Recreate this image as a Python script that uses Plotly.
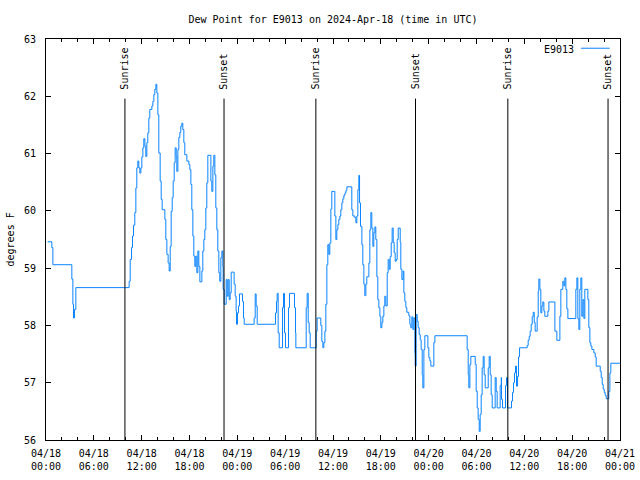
import pandas as pd
import plotly.graph_objects as go

# hours after 2024-04-18 00:00 UTC and dew point (deg F)
hours = [0.2, 0.73, 0.86, 3.24, 3.37, 3.45, 3.57, 3.74,
         10.43, 10.56, 10.73, 10.85, 10.98, 11.14, 11.27, 11.39, 11.52, 11.64, 11.77, 11.90,
         12.02, 12.15, 12.27, 12.40, 12.52, 12.65, 12.77, 12.90, 13.02, 13.28, 13.40, 13.53,
         13.65, 13.78, 13.90, 14.03, 14.15,
         14.32, 14.45, 14.57, 14.91, 15.03, 15.16, 15.32, 15.45, 15.58, 15.70, 15.83, 15.95,
         16.08, 16.20, 16.33, 16.41, 16.54, 16.66, 16.79, 16.91, 17.04, 17.16, 17.29, 17.41,
         17.67, 17.92, 18.04, 18.17, 18.29, 18.42, 18.54, 18.67, 18.79, 18.92, 19.05, 19.17,
         19.30, 19.55, 19.67, 19.80, 19.92, 20.05, 20.17, 20.30, 20.68, 20.80, 20.93, 21.05,
         21.18, 21.30, 21.43, 21.55, 21.68, 21.80, 21.93, 22.06, 22.18, 22.22, 22.35, 22.60,
         22.73, 22.85, 22.98, 23.10, 23.23, 23.60, 23.73, 23.85, 23.90, 24.02, 24.15, 24.27,
         24.65, 24.77, 24.86, 26.11, 26.24, 26.36, 26.49,
         28.79, 28.91, 29.00, 29.12, 29.25, 29.67, 29.79, 29.92, 30.04, 30.42, 30.54, 31.17,
         31.30, 31.34, 32.64, 32.76, 32.89, 33.01, 33.14, 33.89, 34.01, 34.47, 34.60, 34.73,
         34.85, 34.98, 35.10, 35.23, 35.35, 35.48, 35.60, 35.73, 35.85, 36.23, 36.36, 36.48,
         36.61, 36.73, 36.86, 36.98, 37.11, 37.23, 37.36, 37.49, 37.61, 37.74, 38.36, 38.49,
         38.74, 38.87, 38.99, 39.12, 39.24, 39.33, 39.45, 39.62, 39.74, 39.87, 39.99, 40.12,
         40.24, 40.50, 40.62, 40.75, 40.87, 41.00, 41.12, 41.25, 41.37, 41.50, 41.62, 41.75,
         41.88, 42.00, 42.13, 42.25, 42.38, 42.50, 42.63,
         42.80, 42.92, 43.05, 43.17, 43.30, 43.42, 43.55, 43.67, 43.80, 43.93, 44.05, 44.18,
         44.43, 44.51, 44.64, 44.80, 44.89, 45.01, 45.14, 45.26, 45.51, 45.64, 45.76, 45.89,
         46.02, 46.14, 46.27, 46.31, 46.43, 46.56, 46.68, 46.81, 46.94, 47.06, 47.19, 47.27,
         47.40, 47.52, 47.90, 48.02, 48.15, 48.27, 48.65, 48.78,
         52.83, 52.96, 53.04, 53.17, 53.29, 53.84, 53.96, 54.09, 54.21, 54.34, 54.46, 54.59,
         54.71, 54.84, 54.96, 55.09, 55.47, 55.59, 55.72, 55.84, 55.97, 56.34, 56.47, 56.59,
         56.97, 57.10, 57.14, 57.26, 57.64, 57.77, 57.89, 58.39, 58.52, 58.64, 58.77, 58.90,
         59.02, 59.15, 59.27, 59.40, 60.36, 60.48, 60.61, 60.73, 60.86, 60.99, 61.11, 61.24,
         61.36, 61.61, 61.74, 61.82, 61.95, 62.07, 62.20, 62.32, 62.45, 62.57, 62.95, 63.08,
         63.83, 64.08, 64.46, 64.58, 64.83, 64.96, 65.08, 65.21, 65.33, 65.46, 66.46, 66.59,
         66.71, 66.84, 66.96, 67.09, 67.21, 67.34, 67.47, 67.59, 67.97, 68.09, 68.22, 68.34,
         68.47, 68.72, 68.89, 69.01, 69.52, 69.64, 69.77, 69.89, 70.02, 70.14, 70.27, 70.60,
         70.73, 70.85, 72.00]

dewpoint = [59.46, 59.36, 59.06, 58.81, 58.37, 58.13, 58.28, 58.66,
            58.77, 59.15, 59.36, 59.56, 59.75, 59.97, 60.40, 60.75, 60.87, 60.75, 60.66, 60.75,
            60.94, 61.10, 61.26, 61.13, 60.95, 61.19, 61.36, 61.62, 61.77, 61.83, 61.91, 62.03,
            62.12, 62.21, 62.06, 61.68, 61.01,
            60.52, 60.20, 60.02, 59.85, 59.50, 59.24, 59.09, 58.95, 59.38, 59.99, 60.23, 60.52,
            60.84, 61.10, 60.95, 60.69, 61.07, 61.28, 61.37, 61.48, 61.53, 61.42, 61.19, 60.98,
            60.87, 60.81, 60.72, 60.46, 60.02, 59.56, 59.21, 59.03, 59.21, 58.92, 59.30, 59.03,
            58.76, 58.95, 59.30, 59.50, 59.67, 60.05, 60.49, 60.97, 60.52, 60.34, 60.78, 60.97,
            60.63, 60.05, 59.67, 59.30, 58.92, 58.77, 59.18, 59.30, 59.03, 58.63, 58.37, 58.80,
            58.51, 58.80, 58.45, 58.57, 58.93, 58.72, 58.51, 58.25, 58.02, 58.22, 58.34, 58.55,
            58.42, 58.13, 58.02, 58.13, 58.55, 58.34, 58.02,
            58.22, 58.42, 58.56, 57.87, 57.61, 58.31, 58.56, 57.87, 57.61, 58.31, 58.56, 58.31,
            57.87, 57.61, 58.31, 58.56, 58.05, 57.87, 57.61, 57.90, 58.13, 58.00, 57.72, 57.61,
            57.70, 57.90, 58.37, 59.06, 59.41, 59.24, 59.44, 60.03, 60.34, 59.91, 59.50, 59.67,
            59.76, 59.85, 59.91, 60.02, 60.14, 60.21, 60.27, 60.31, 60.35, 60.42, 60.02, 59.91,
            59.88, 59.79, 59.91, 60.37, 60.62, 60.14, 59.73, 59.41, 59.06, 58.72, 58.52, 58.72,
            58.85, 59.09, 59.67, 59.97, 59.70, 59.38, 59.62, 59.72, 59.50, 58.85, 58.45, 58.31,
            58.16, 57.96, 58.05, 58.16, 58.34, 58.51, 58.34,
            58.92, 59.15, 58.98, 59.20, 59.44, 59.70, 59.45, 59.27, 59.12, 59.15, 59.50, 59.70,
            59.45, 58.98, 58.80, 58.95, 58.57, 58.42, 58.31, 58.23, 58.17, 58.02, 57.96, 58.15,
            57.93, 58.13, 57.52, 57.29, 58.19, 58.07, 57.96, 57.84, 57.75, 57.58, 57.14, 56.91,
            57.58, 57.82, 57.61, 57.44, 57.38, 57.29, 57.70, 57.82,
            57.58, 57.14, 56.91, 57.32, 57.46, 57.32, 56.85, 56.56, 56.36, 56.15, 56.45, 56.79,
            57.26, 57.46, 57.14, 56.91, 57.26, 57.46, 57.14, 56.79, 56.56, 57.09, 56.85, 56.56,
            56.95, 57.09, 56.71, 56.56, 56.95, 57.09, 56.56, 56.68, 56.83, 57.00, 57.17, 57.29,
            56.94, 57.11, 57.45, 57.61, 57.65, 57.74, 57.81, 57.90, 58.02, 58.15, 58.23, 58.05,
            57.90, 58.15, 58.60, 58.81, 58.63, 58.22, 58.34, 58.41, 58.25, 58.16, 58.25, 58.41,
            57.90, 57.74, 58.16, 58.63, 58.77, 58.69, 58.83, 58.63, 58.29, 58.12, 58.63, 58.83,
            58.12, 57.93, 58.63, 58.83, 58.16, 58.45, 58.12, 58.63, 58.45, 57.96, 57.70, 57.64,
            57.58, 57.52, 57.45, 57.29, 57.20, 57.09, 56.97, 56.89, 56.83, 56.78, 56.72, 56.85,
            57.17, 57.34, 57.34]

sunrise_hours = [9.9, 33.85, 57.93]
sunset_hours = [22.33, 46.35, 70.5]
y_range = [56, 63]
marker_top = 61.96
series_name = "E9013"

base = pd.Timestamp("2024-04-18 00:00")
times = [base + pd.Timedelta(hours=h) for h in hours]

FONT = "DejaVu Sans Mono"
LINE_COLOR = "#0a84ff"
fig = go.Figure()
fig.add_trace(go.Scatter(x=times, y=dewpoint, mode="lines", line_shape="hv",
                         line=dict(color=LINE_COLOR, width=1), name=series_name,
                         showlegend=False))

shapes = []
annotations = []
for label, hrs in (("Sunrise", sunrise_hours), ("Sunset", sunset_hours)):
    for h in hrs:
        t = base + pd.Timedelta(hours=h)
        shapes.append(dict(type="line", xref="x", yref="y", x0=t, x1=t,
                           y0=y_range[0], y1=marker_top,
                           line=dict(color="black", width=1)))
        annotations.append(dict(x=t, y=62.08, xref="x", yref="y", text=label,
                                textangle=-90, showarrow=False, xanchor="center",
                                yanchor="bottom", font=dict(family=FONT, size=10, color="black")))

# legend in gnuplot style (text then sample line)
annotations.append(dict(x=0.923, y=0.975, xref="paper", yref="paper", text=series_name,
                        showarrow=False, xanchor="right", yanchor="middle",
                        font=dict(family=FONT, size=10, color="black")))
shapes.append(dict(type="line", xref="paper", yref="paper", x0=0.932, x1=0.982,
                   y0=0.977, y1=0.977, line=dict(color=LINE_COLOR, width=1)))

annotations.append(dict(x=-0.061, y=0.5, xref="paper", yref="paper", text="degrees F",
                        textangle=-90, showarrow=False, xanchor="center", yanchor="middle",
                        font=dict(family=FONT, size=10, color="black")))

fig.update_layout(
    width=640, height=480,
    margin=dict(l=46, r=20, t=39, b=40),
    paper_bgcolor="white", plot_bgcolor="white",
    font=dict(family=FONT, size=10, color="black"),
    title=dict(text="Dew Point for E9013 on 2024-Apr-18 (time in UTC)", x=0.5, xref="paper",
               xanchor="center", y=1 - 19 / 480, yref="container", yanchor="middle",
               font=dict(family=FONT, size=10, color="black")),
    shapes=shapes, annotations=annotations,
    xaxis=dict(type="date", range=[base, base + pd.Timedelta(hours=72)], automargin=False,
               dtick=6 * 3600 * 1000, tick0=base, tickformat="%m/%d<br>%H:%M",
               ticks="inside", ticklen=5, tickcolor="black", showgrid=False,
               ticklabelstandoff=4,
               showline=True, linecolor="black", linewidth=1, mirror="ticks",
               minor=dict(dtick=2 * 3600 * 1000, ticks="inside", ticklen=3,
                          tickcolor="black", showgrid=False),
               zeroline=False, tickfont=dict(family=FONT, size=10)),
    yaxis=dict(range=y_range, dtick=1, ticks="inside", ticklen=5, tickcolor="black",
               automargin=False, ticklabelstandoff=7,
               showgrid=False, showline=True, linecolor="black", linewidth=1,
               mirror="ticks", zeroline=False, tickfont=dict(family=FONT, size=10)),
)

fig.write_html("out.html")
